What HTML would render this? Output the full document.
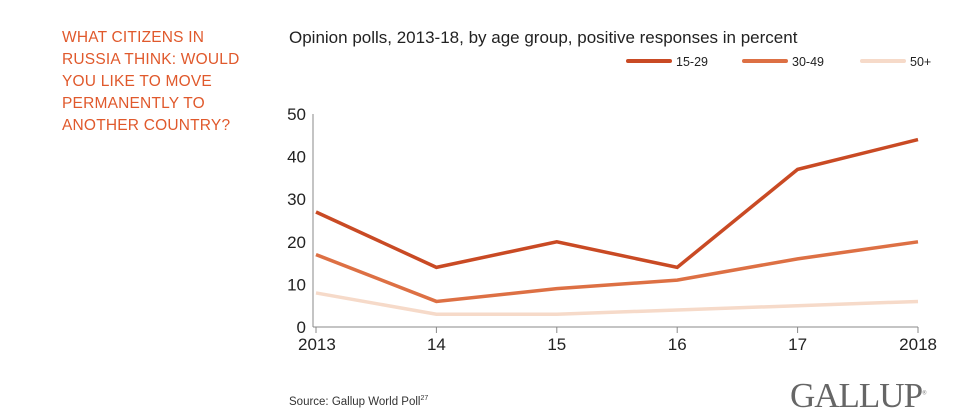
<!DOCTYPE html>
<html><head><meta charset="utf-8"><style>
body{margin:0;width:956px;height:420px;background:#fff;font-family:"Liberation Sans",sans-serif;position:relative;overflow:hidden}
.t{position:absolute;left:62px;top:27px;color:#e0592c;font-size:15.5px;line-height:22px;letter-spacing:.2px}
.sub{position:absolute;left:289px;top:28px;font-size:17px;color:#222}
.src{position:absolute;left:289px;top:395px;font-size:11.5px;color:#333}
.logo{position:absolute;left:790px;top:376px;font-family:"Liberation Serif",serif;font-size:35px;color:#666;letter-spacing:-1px}
</style></head><body>
<div class="t">WHAT CITIZENS IN<br>RUSSIA THINK: WOULD<br>YOU LIKE TO MOVE<br>PERMANENTLY TO<br>ANOTHER COUNTRY?</div>
<div class="sub">Opinion polls, 2013-18, by age group, positive responses in percent</div>
<svg id="c" width="956" height="420" style="position:absolute;left:0;top:0"></svg>
<div class="src">Source: Gallup World Poll<sup style="font-size:7px">27</sup></div>
<div class="logo">GALLUP<sup style="font-size:6px">®</sup></div>
<script>
const categories=["2013","14","15","16","17","2018"];
const s1529=[27,14,20,14,37,44];
const s3049=[17,6,9,11,16,20];
const s50=[8,3,3,4,5,6];
const yTicks=[0,10,20,30,40,50];
const seriesNames=["15-29","30-49","50+"];
const colors=["#c94a24","#dd7044","#f6dac9"];
const NS="http://www.w3.org/2000/svg",svg=document.getElementById('c');
const x=i=>316+i*(918-316)/(categories.length-1);
const y=v=>327-v*(327-114)/50;
function mk(t,a,p){const e=document.createElementNS(NS,t);for(const k in a)e.setAttribute(k,a[k]);(p||svg).appendChild(e);return e;}
const ax=mk('line',{x1:313,x2:313,y1:y(50),y2:y(0),stroke:'#888','stroke-width':1});


const bx=mk('line',{x1:313,x2:918,y1:y(0),y2:y(0),stroke:'#888','stroke-width':1});


yTicks.forEach(v=>{const t=mk('text',{x:306,y:y(v)+6,'text-anchor':'end','font-size':17,fill:'#222'});t.textContent=v;

});
categories.forEach((c,i)=>{const tk=mk('line',{x1:x(i),x2:x(i),y1:y(0),y2:y(0)+6,stroke:'#888'});


const anchor=i==0?'start':(i==categories.length-1?'end':'middle');
const t=mk('text',{x:i==0?298:(i==categories.length-1?937:x(i)),y:350,'text-anchor':anchor,'font-size':17,fill:'#222'});t.textContent=c;

});
[s50,s3049,s1529].forEach((s,k)=>{const idx=2-k;
const p=mk('polyline',{points:s.map((v,i)=>x(i)+','+y(v)).join(' '),fill:'none',stroke:colors[idx],'stroke-width':3.5,'stroke-linejoin':'miter'});

});
const lx=[628,744,862];
seriesNames.forEach((n,i)=>{const g=mk('g',{});


mk('line',{x1:lx[i],x2:lx[i]+42,y1:61,y2:61,stroke:colors[i],'stroke-width':4,'stroke-linecap':'round'},g);
const t=mk('text',{x:lx[i]+48,y:66,'font-size':12.5,fill:'#222'},g);t.textContent=n;});
</script>
</body></html>
